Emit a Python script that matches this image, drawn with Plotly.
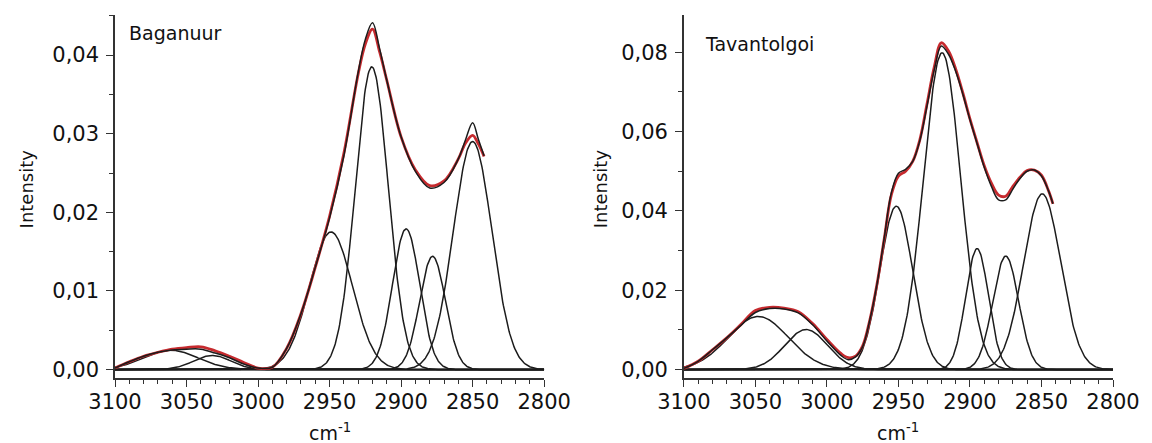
import numpy as np
import plotly.graph_objects as go

# Gaussian components: centre (cm-1), height, sigma (cm-1)
bag_peak_pos = [3061, 3032, 2949, 2920.5, 2896.5, 2878, 2850]
bag_peak_height = [0.00246, 0.0018, 0.0175, 0.0385, 0.0179, 0.0144, 0.0290]
bag_peak_sigma = [19, 13, 15, 11.5, 9.5, 9, 13.5]

tav_peak_pos = [3048, 3014.5, 2951.5, 2919.5, 2895, 2875, 2849.5]
tav_peak_height = [0.0134, 0.0101, 0.0412, 0.0799, 0.0305, 0.0286, 0.0443]
tav_peak_sigma = [21, 15, 11.5, 13, 8, 9, 13]

# envelopes: black = fitted sum, red = measured spectrum
bag_wn = [3100, 3090, 3080, 3070, 3060, 3050, 3040, 3030, 3020, 3010, 3000, 2990,
          2980, 2970, 2960, 2950, 2940, 2930, 2925, 2920, 2915, 2910, 2900, 2890,
          2880, 2870, 2860, 2855, 2850, 2846, 2842]
bag_fit = [0.0002, 0.0010, 0.0017, 0.0022, 0.0025, 0.0026, 0.0026, 0.0021, 0.0015, 0.0007, 0.0002, 0.0003,
           0.0027, 0.0071, 0.0130, 0.0193, 0.0272, 0.0378, 0.0420, 0.0441, 0.0408, 0.0368, 0.0296, 0.0252,
           0.0231, 0.0238, 0.0268, 0.0292, 0.0314, 0.0293, 0.0272]
bag_meas = [0.0002, 0.0010, 0.0017, 0.0022, 0.0026, 0.0028, 0.0029, 0.0024, 0.0017, 0.0009, 0.0002, 0.0003,
            0.0027, 0.0071, 0.0130, 0.0195, 0.0275, 0.0376, 0.0414, 0.0433, 0.0404, 0.0368, 0.0296, 0.0254,
            0.0234, 0.0240, 0.0268, 0.0288, 0.0298, 0.0287, 0.0271]

tav_wn = [3100, 3090, 3080, 3070, 3060, 3050, 3040, 3030, 3020, 3010, 3000, 2990, 2985,
          2980, 2975, 2970, 2965, 2960, 2955, 2950, 2945, 2940, 2935, 2930, 2925, 2920,
          2915, 2910, 2905, 2900, 2895, 2890, 2885, 2880, 2875, 2870, 2865, 2860, 2855,
          2850, 2845, 2842]
tav_fit = [0.0003, 0.0021, 0.0050, 0.0080, 0.0112, 0.0144, 0.0154, 0.0153, 0.0143, 0.0113, 0.0072, 0.0035, 0.0025,
           0.0032, 0.0058, 0.0125, 0.0215, 0.0330, 0.0445, 0.0495, 0.0505, 0.0525, 0.0578, 0.0665, 0.0755, 0.0816,
           0.0795, 0.0752, 0.0695, 0.0630, 0.0570, 0.0510, 0.0462, 0.0428, 0.0428, 0.0455, 0.0482, 0.0500, 0.0503,
           0.0488, 0.0450, 0.0418]
tav_meas = [0.0003, 0.0021, 0.0050, 0.0080, 0.0114, 0.0149, 0.0157, 0.0155, 0.0146, 0.0116, 0.0076, 0.0040, 0.0030,
            0.0034, 0.0060, 0.0125, 0.0215, 0.0328, 0.0440, 0.0488, 0.0500, 0.0525, 0.0580, 0.0670, 0.0762, 0.0824,
            0.0803, 0.0758, 0.0698, 0.0632, 0.0572, 0.0514, 0.0470, 0.0440, 0.0437, 0.0462, 0.0485, 0.0502, 0.0503,
            0.0490, 0.0450, 0.0418]

x_tickvals = [3100, 3050, 3000, 2950, 2900, 2850, 2800]
x_ticktext = ["3100", "3050", "3000", "2950", "2900", "2850", "2800"]
bag_y_tickvals = [0.0, 0.01, 0.02, 0.03, 0.04]
bag_y_ticktext = ["0,00", "0,01", "0,02", "0,03", "0,04"]
tav_y_tickvals = [0.0, 0.02, 0.04, 0.06, 0.08]
tav_y_ticktext = ["0,00", "0,02", "0,04", "0,06", "0,08"]

RED = "#c62a2e"
BLK = "#1c1c1c"
FONT = "DejaVu Sans"

fig = go.Figure()
wn = np.linspace(3100, 2800, 601)


def add_panel(xa, ya, pos, height, sigma, env_x, fit, meas):
    for c, h, s in zip(pos, height, sigma):
        fig.add_trace(go.Scatter(x=wn, y=h * np.exp(-(wn - c) ** 2 / (2 * s * s)), mode="lines",
                                 line=dict(color=BLK, width=1.5), xaxis=xa, yaxis=ya, hoverinfo="skip"))
    fig.add_trace(go.Scatter(x=env_x, y=meas, mode="lines", line=dict(color=RED, width=2.8, shape="spline"),
                             xaxis=xa, yaxis=ya))
    fig.add_trace(go.Scatter(x=env_x, y=fit, mode="lines", line=dict(color=BLK, width=1.5, shape="spline"),
                             xaxis=xa, yaxis=ya))


add_panel("x", "y", bag_peak_pos, bag_peak_height, bag_peak_sigma, bag_wn, bag_fit, bag_meas)
add_panel("x2", "y2", tav_peak_pos, tav_peak_height, tav_peak_sigma, tav_wn, tav_fit, tav_meas)

xcommon = dict(range=[3100, 2800], tickvals=x_tickvals, ticktext=x_ticktext, ticks="outside", ticklen=7,
               tickwidth=1.3, tickcolor="#333", showline=True, linecolor="#333", linewidth=1.5,
               showgrid=False, zeroline=False, tickfont=dict(family=FONT, size=21, color="#111"),
               ticklabelstandoff=-3,
               minor=dict(tick0=2800, dtick=10, ticks="outside", ticklen=4, tickcolor="#333", showgrid=False))
ycommon = dict(ticks="outside", ticklen=7, tickwidth=1.3, tickcolor="#333", showline=True, linecolor="#333",
               linewidth=1.5, showgrid=False, zeroline=True, zerolinecolor="#777", zerolinewidth=2,
               ticklabelstandoff=3, tickfont=dict(family=FONT, size=21, color="#111"))

fig.update_layout(
    width=1152, height=443, showlegend=False,
    paper_bgcolor="white", plot_bgcolor="white",
    margin=dict(l=115, r=27, t=15, b=65),
    xaxis=dict(domain=[0, 0.43], anchor="y", **xcommon),
    xaxis2=dict(domain=[0.57, 1], anchor="y2", **xcommon),
    yaxis=dict(domain=[0, 1], anchor="x", range=[-0.00107, 0.0451], tickvals=bag_y_tickvals,
               ticktext=bag_y_ticktext, minor=dict(dtick=0.005, tick0=0, ticks="outside", ticklen=4,
                                                   tickcolor="#333"), **ycommon),
    yaxis2=dict(domain=[0, 1], anchor="x2", range=[-0.00212, 0.0894], tickvals=tav_y_tickvals,
                ticktext=tav_y_ticktext, minor=dict(dtick=0.01, tick0=0, ticks="outside", ticklen=4,
                                                    tickcolor="#333"), **ycommon),
)

txt = dict(family=FONT, size=19, color="#111")
fig.add_annotation(text="Baganuur", xref="paper", yref="paper", x=0.012, y=0.95, xanchor="left",
                   yanchor="middle", showarrow=False, font=txt)
fig.add_annotation(text="Tavantolgoi", xref="paper", yref="paper", x=0.589, y=0.92, xanchor="left",
                   yanchor="middle", showarrow=False, font=txt)
for xp in [-0.089, 0.486]:
    fig.add_annotation(text="Intensity", xref="paper", yref="paper", x=xp, y=0.52, textangle=-90,
                       xanchor="center", yanchor="middle", showarrow=False,
                       font=dict(family=FONT, size=18, color="#111"))
for xp in [0.215, 0.785]:
    fig.add_annotation(text="cm<sup>-1</sup>", xref="paper", yref="paper", x=xp, y=-0.15,
                       xanchor="center", yanchor="middle", showarrow=False,
                       font=dict(family=FONT, size=19, color="#111"))

fig.write_html("out.html", config={"displayModeBar": False},
               post_script="document.body.style.margin='0';")
